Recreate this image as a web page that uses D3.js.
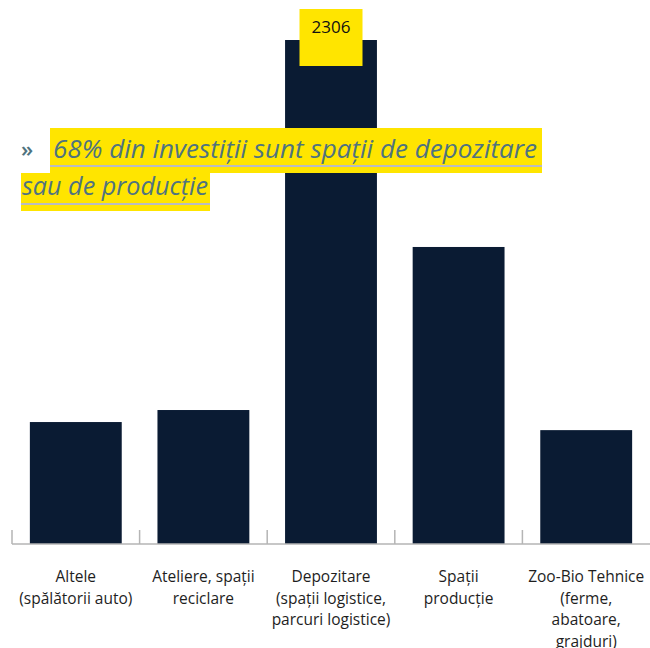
<!DOCTYPE html>
<html>
<head>
<meta charset="utf-8">
<script src="https://cdn.jsdelivr.net/npm/d3@7"></script>
<style>
  body { margin: 0; background: #fff; }
  svg { display: block; }
</style>
</head>
<body>
<svg id="chart" width="650" height="648"></svg>
<script>
// data
const categoryLines = [
  ["Altele", "(spălătorii auto)"],
  ["Ateliere, spații", "reciclare"],
  ["Depozitare", "(spații logistice,", "parcuri logistice)"],
  ["Spații", "producție"],
  ["Zoo-Bio Tehnice", "(ferme,", "abatoare,", "grajduri)"]
];
const values = [558, 613, 2306, 1359, 521];
const highlightIndex = 2;
const titleLines = ["68% din investiții sunt spații de depozitare", "sau de producție"];

(function () {
  var svg = d3.select("#chart");
  var baseY = 544;

  var x = d3.scaleBand()
    .domain(d3.range(values.length))
    .range([12, 650])
    .paddingInner(0.28)
    .paddingOuter(0.14);

  var y = d3.scaleLinear().domain([0, 2306]).range([baseY, 40]);

  // bars
  svg.append("g")
    .selectAll("rect")
    .data(values)
    .enter()
    .append("rect")
    .attr("x", (d, i) => x(i))
    .attr("width", x.bandwidth())
    .attr("y", (d) => y(d))
    .attr("height", (d) => baseY - y(d))
    .attr("fill", "#0a1b33");

  // axis line + ticks between categories
  var axis = svg.append("g").attr("stroke", "#b5b5b5").attr("stroke-width", 1.5);
  axis.append("line").attr("x1", 12).attr("x2", 650).attr("y1", baseY).attr("y2", baseY);
  var step = x.step();
  axis.selectAll("line.tick")
    .data(d3.range(values.length))
    .enter()
    .append("line")
    .attr("class", "tick")
    .attr("x1", (d) => 12 + d * step)
    .attr("x2", (d) => 12 + d * step)
    .attr("y1", baseY - 14)
    .attr("y2", baseY);

  // category labels
  var labels = svg.append("g")
    .attr("font-family", "'Open Sans', 'Liberation Sans', sans-serif")
    .attr("font-size", 15.5)
    .attr("fill", "#1e1e1e")
    .attr("text-anchor", "middle");
  categoryLines.forEach(function (lines, i) {
    var t = labels.append("text")
      .attr("x", x(i) + x.bandwidth() / 2)
      .attr("y", 582);
    lines.forEach(function (l, j) {
      t.append("tspan")
        .attr("x", x(i) + x.bandwidth() / 2)
        .attr("dy", j === 0 ? 0 : 21.5)
        .text(l);
    });
  });

  // value label for highlighted bar
  var cx = x(highlightIndex) + x.bandwidth() / 2;
  var top = y(values[highlightIndex]);
  svg.append("rect")
    .attr("x", cx - 31.5)
    .attr("y", top - 31)
    .attr("width", 63)
    .attr("height", 57)
    .attr("fill", "#ffe500");
  svg.append("text")
    .attr("x", cx)
    .attr("y", top - 7)
    .attr("text-anchor", "middle")
    .attr("font-family", "'Open Sans', sans-serif")
    .attr("font-size", 17)
    .attr("fill", "#111")
    .text(values[highlightIndex]);

  // callout title
  var title = svg.append("g");
  var rows = [
    { x0: 50, x1: 542, y0: 128, y1: 173, tx: 53, base: 158, w: 484, ul: 166 },
    { x0: 21, x1: 210, y0: 173, y1: 211, tx: 22, base: 195, w: 186, ul: 204 }
  ];
  rows.forEach(function (r, i) {
    title.append("rect")
      .attr("x", r.x0).attr("y", r.y0)
      .attr("width", r.x1 - r.x0).attr("height", r.y1 - r.y0)
      .attr("fill", "#ffe500");
    title.append("line")
      .attr("x1", r.x0).attr("x2", r.x1)
      .attr("y1", r.ul).attr("y2", r.ul)
      .attr("stroke", "#b9bcc0").attr("stroke-width", 2);
    title.append("text")
      .attr("x", r.tx)
      .attr("y", r.base)
      .attr("font-family", "'Open Sans', sans-serif")
      .attr("font-style", "italic")
      .attr("font-size", 25)
      .attr("fill", "#4f7380")
      .attr("textLength", r.w)
      .attr("lengthAdjust", "spacingAndGlyphs")
      .text(titleLines[i]);
  });
  title.append("text")
    .attr("x", 21)
    .attr("y", 157)
    .attr("font-family", "'Open Sans', sans-serif")
    .attr("font-weight", 600)
    .attr("font-size", 22)
    .attr("fill", "#4f7380")
    .text("»");
})();
</script>
</body>
</html>
